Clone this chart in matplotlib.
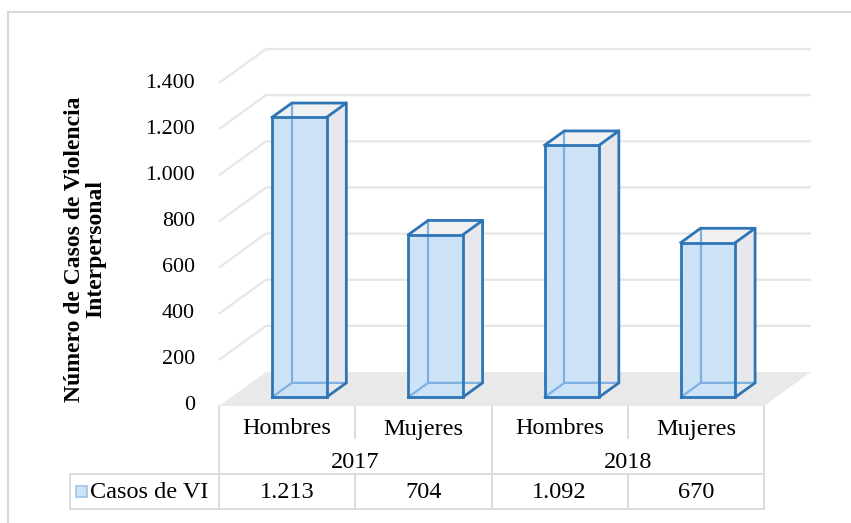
import matplotlib
matplotlib.use("Agg")
import matplotlib.pyplot as plt
from matplotlib.patches import Polygon, Rectangle
from matplotlib.transforms import blended_transform_factory

# ---- data ----
years = ["2017", "2018"]
sexes = ["Hombres", "Mujeres", "Hombres", "Mujeres"]
values = [1213, 704, 1092, 670]
value_labels = ["1.213", "704", "1.092", "670"]
series_name = "Casos de VI"
y_ticks = [0, 200, 400, 600, 800, 1000, 1200, 1400]
y_title = "Número de Casos de Violencia\nInterpersonal"

FAM = ['Liberation Serif', 'DejaVu Serif']
plt.rcParams['font.family'] = FAM

W, H = 851, 523
fig = plt.figure(figsize=(W / 100, H / 100), dpi=100)
ov = fig.add_axes([0, 0, 1, 1])
ov.set_xlim(0, W)
ov.set_ylim(H, 0)
ov.axis('off')

# front plane of the 3D plot
fx0, fx1, fy0, fy1 = 219, 764, 406, 83
ax = fig.add_axes([fx0 / W, 1 - fy0 / H, (fx1 - fx0) / W, (fy0 - fy1) / H])
n = len(values)
ax.set_xlim(0, n)
ax.set_ylim(0, 1400)
ax.axis('off')

px_per_cat = (fx1 - fx0) / n
px_per_val = (fy0 - fy1) / 1400
DX = 47 / px_per_cat
DV = 34 / px_per_val


def P(x, v, d):
    return (x + d * DX, v + d * DV)


grid_c = '#E6E6E6'
# floor
ax.add_patch(Polygon([P(0, 0, 0), P(n, 0, 0), P(n, 0, 1), P(0, 0, 1)],
                     closed=True, facecolor='#E9E9E9', edgecolor='none',
                     clip_on=False, zorder=1))
# gridlines
for v in y_ticks[1:]:
    pts = [P(0, v, 0), P(0, v, 1), P(n, v, 1)]
    ax.plot([p[0] for p in pts], [p[1] for p in pts], color=grid_c, lw=1.6,
            clip_on=False, zorder=1, solid_capstyle='butt')

# bars
bw = 0.40
d0, d1 = 0.26, 0.68
edge_c = '#2E75B6'
hid_c = '#7EB1E1'
for i, v in enumerate(values):
    x0 = i + 0.5 - bw / 2
    x1 = i + 0.5 + bw / 2
    side = [P(x1, 0, d0), P(x1, 0, d1), P(x1, v, d1), P(x1, v, d0)]
    top = [P(x0, v, d0), P(x1, v, d0), P(x1, v, d1), P(x0, v, d1)]
    front = [P(x0, 0, d0), P(x1, 0, d0), P(x1, v, d0), P(x0, v, d0)]
    ax.add_patch(Polygon(side, closed=True, facecolor='#E6E8EB', edgecolor='none',
                         clip_on=False, zorder=3))
    ax.add_patch(Polygon(top, closed=True, facecolor='#EFF0F2', edgecolor='none',
                         clip_on=False, zorder=3))
    ax.add_patch(Polygon(front, closed=True, facecolor='#CCE2F7', edgecolor='none',
                         clip_on=False, zorder=3))
    # hidden edges seen through
    for seg in ([P(x0, 0, d0), P(x0, 0, d1), P(x1, 0, d1)],
                [P(x0, 0, d1), P(x0, v, d1)]):
        ax.plot([p[0] for p in seg], [p[1] for p in seg], color=hid_c, lw=1.6,
                clip_on=False, zorder=4)
    # visible edges
    for seg in (front + [front[0]],
                [P(x0, v, d0), P(x0, v, d1), P(x1, v, d1), P(x1, v, d0)],
                [P(x1, v, d1), P(x1, 0, d1), P(x1, 0, d0)]):
        ax.plot([p[0] for p in seg], [p[1] for p in seg], color=edge_c, lw=2.0,
                clip_on=False, zorder=5, solid_joinstyle='miter')

# y tick labels
tr_tick = blended_transform_factory(ov.transData, ax.transData)
for v in y_ticks:
    ov.text(195, v, f"{v:,}".replace(',', '.'), transform=tr_tick,
            ha='right', va='center', fontsize=15.8, color='#000000', family=FAM)

# axis title
ov.text(85, 249, y_title, rotation=90, ha='center', va='center',
        fontsize=17.0, fontweight='bold', multialignment='center',
        linespacing=1.0, family=FAM)

# data table
tr_tab = blended_transform_factory(ax.transData, ov.transData)
line_c = '#D9D9D9'
lw_t = 1.3
r1_top, r2_top, r3_top, r3_bot = 406, 440, 474, 509
leg_left = 70
tfs = 17.5
for i, s in enumerate(sexes):
    ov.text(i + 0.5, 429, s, transform=tr_tab, ha='center', va='center', fontsize=tfs, family=FAM)
    ov.text(i + 0.5, 492, value_labels[i], transform=tr_tab, ha='center', va='center', fontsize=tfs, family=FAM)
for j, yv in enumerate(years):
    ov.text(2 * j + 1, 463, yv, transform=tr_tab, ha='center', va='center', fontsize=tfs, family=FAM)

# vertical lines
for k in range(n + 1):
    if k in (0, 2, n):
        ov.plot([k, k], [r1_top, r3_bot], transform=tr_tab, color=line_c, lw=lw_t)
    else:
        ov.plot([k, k], [r1_top, r2_top - 2], transform=tr_tab, color=line_c, lw=lw_t)
        ov.plot([k, k], [r3_top, r3_bot], transform=tr_tab, color=line_c, lw=lw_t)
# horizontal lines
xr = fx1
ov.plot([leg_left, xr], [r3_top, r3_top], color=line_c, lw=lw_t)
ov.plot([leg_left, xr], [r3_bot, r3_bot], color=line_c, lw=lw_t)
ov.plot([leg_left, leg_left], [r3_top, r3_bot], color=line_c, lw=lw_t)

# legend key
ov.add_patch(Rectangle((76, 486), 11, 11, facecolor='#CCE4F7', edgecolor='#9DC3E6', lw=1.2))
ov.text(90, 492, series_name, ha='left', va='center', fontsize=tfs, family=FAM)

# outer chart border (top and left visible)
ov.plot([8, W], [12, 12], color=line_c, lw=1.5)
ov.plot([8, 8], [12, H], color=line_c, lw=1.5)

fig.savefig("out.png", dpi=100)
